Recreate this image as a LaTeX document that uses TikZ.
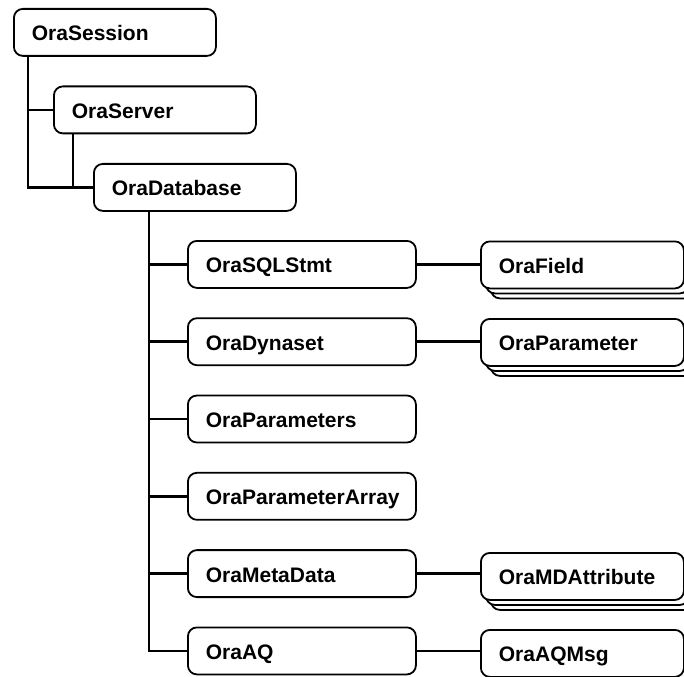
\documentclass[tikz,border=0pt]{standalone}
\usepackage{fontspec}
\setmainfont{Liberation Sans}
\usetikzlibrary{shadows}
\tikzset{
  box/.style={draw=black, fill=white, line width=1.8pt, rounded corners=9pt,
    anchor=north west, minimum height=47pt, inner xsep=18pt, inner ysep=0pt,
    text height=17pt, text depth=0pt, align=left,
    font=\bfseries\fontsize{21}{24}\selectfont},
  topbox/.style={box, text width=166pt},
  childbox/.style={box, text width=192pt},
  itembox/.style={box, text width=167pt},
  stackbox/.style={itembox, double copy shadow={shadow xshift=5pt,
    shadow yshift=-5pt, draw=black, fill=white, line width=1.8pt}},
  link/.style={draw=black, line width=2.6pt}
}
\begin{document}
\begin{tikzpicture}[x=1pt, y=-1pt]
  \useasboundingbox (0,0) rectangle (684,676);
  \clip (0,0) rectangle (684,676);

  % session / server / database chain
  \node[topbox] (session)  at (13,8)    {OraSession};
  \node[topbox] (server)   at (53,85.5) {OraServer};
  \node[topbox] (database) at (93,163)  {OraDatabase};

  % objects created from the database
  \node[childbox] (sqlstmt)    at (187,240)   {OraSQLStmt};
  \node[childbox] (dynaset)    at (187,317.3) {OraDynaset};
  \node[childbox] (parameters) at (187,394.6) {OraParameters};
  \node[childbox] (paramarray) at (187,471.9) {OraParameterArray};
  \node[childbox] (metadata)   at (187,549.2) {OraMetaData};
  \node[childbox] (aq)         at (187,626.5) {OraAQ};

  % collections and single items
  \node[stackbox] (field)     at (480,240.5) {OraField};
  \node[stackbox] (parameter) at (480,318)   {OraParameter};
  \node[stackbox] (mdattr)    at (480,552)   {OraMDAttribute};
  \node[itembox]  (aqmsg)     at (480,629)   {OraAQMsg};

  % tree connectors
  \coordinate (trunkA) at ([xshift=15pt]session.south west);
  \draw[link] (trunkA) |- (database.west);
  \draw[link] (trunkA |- server.west) -- (server.west);
  \coordinate (trunkS) at ([xshift=20pt]server.south west);
  \draw[link] (trunkS) -- (trunkS |- database.west);

  \coordinate (trunkB) at ([xshift=56pt]database.south west);
  \draw[link] (trunkB) |- (aq.west);
  \foreach \n in {sqlstmt,dynaset,parameters,paramarray,metadata}
    \draw[link] (trunkB |- \n.west) -- (\n.west);

  \foreach \a/\b in {sqlstmt/field, dynaset/parameter, metadata/mdattr, aq/aqmsg}
    \draw[link] (\a.east) -- (\a.east -| \b.west);
\end{tikzpicture}
\end{document}
